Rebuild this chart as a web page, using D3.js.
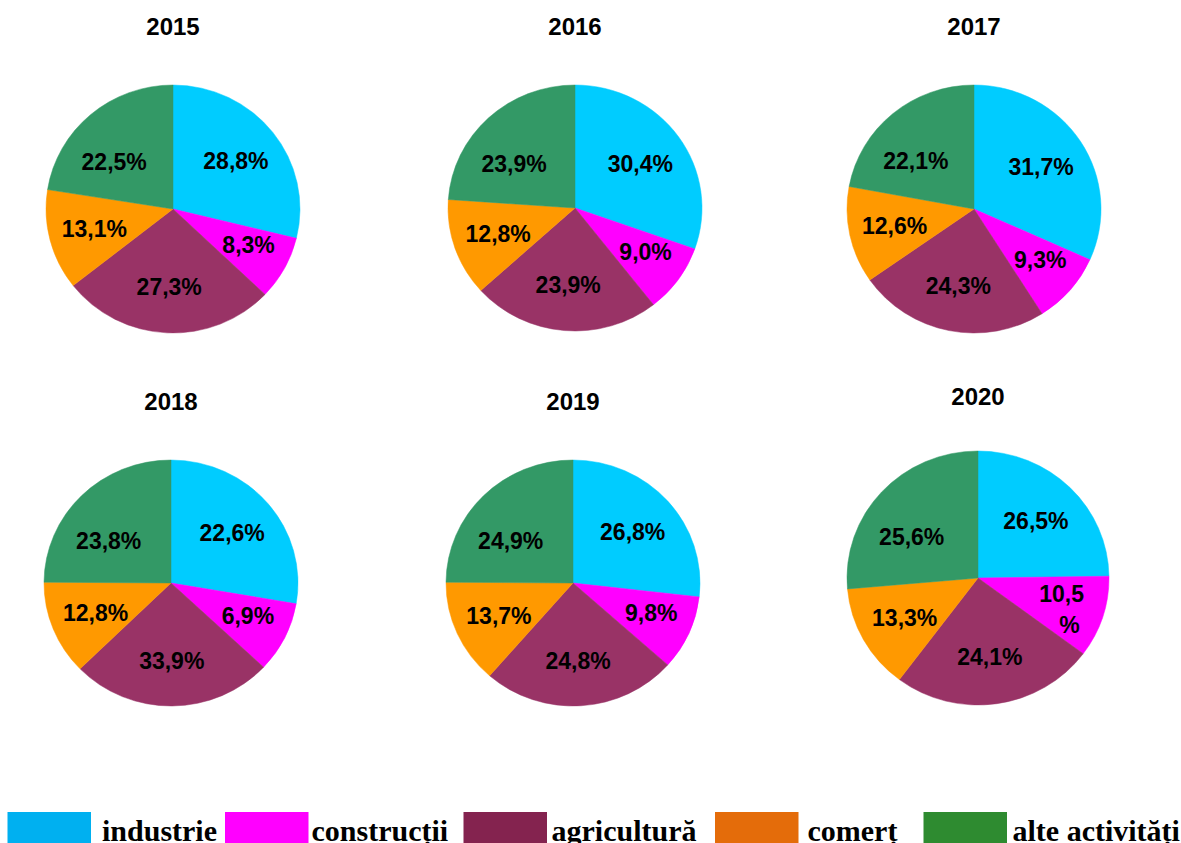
<!DOCTYPE html>
<html><head><meta charset="utf-8">
<script src="https://cdn.jsdelivr.net/npm/d3@7/dist/d3.min.js"></script>
<style>body{margin:0;background:#fff;overflow:hidden}</style>
</head><body><svg id="chart" width="1181" height="843"></svg>
<script>
// ---- data ----
const years = ["2015", "2016", "2017", "2018", "2019", "2020"];
const sectors = ["industrie", "construcții", "agricultură", "comerț", "alte activități"];
// labelled shares (%), order: industrie, construcții, agricultură, comerț, alte activități
const labels2015 = [28.8, 8.3, 27.3, 13.1, 22.5];
const labels2016 = [30.4, 9.0, 23.9, 12.8, 23.9];
const labels2017 = [31.7, 9.3, 24.3, 12.6, 22.1];
const labels2018 = [22.6, 6.9, 33.9, 12.8, 23.8];
const labels2019 = [26.8, 9.8, 24.8, 13.7, 24.9];
const labels2020 = [26.5, 10.5, 24.1, 13.3, 25.6];
// slice sizes as drawn in the picture (differ from labels for 2018 and 2020)
const slices2018 = [27.7, 9.3, 25.7, 12.4, 24.9];
const slices2020 = [24.8, 10.4, 25.1, 13.4, 26.4];
const labelSets = [labels2015, labels2016, labels2017, labels2018, labels2019, labels2020];
const sliceSets = [labels2015, labels2016, labels2017, slices2018, labels2019, slices2020];
const wrapLabels = ["2020|construcții"];
const pieColors = ["#00ccff", "#ff00ff", "#993366", "#ff9900", "#339966"];
const legendColors = ["#00b0f0", "#ff00ff", "#84234f", "#e46c0a", "#2e8b30"];

// ---- layout ----
const layout = [
  {cx: 173, cy: 209, rx: 127, ry: 124, ty: 35},
  {cx: 575, cy: 208, rx: 127, ry: 123, ty: 35},
  {cx: 974, cy: 209, rx: 127, ry: 124, ty: 35},
  {cx: 171, cy: 583, rx: 127, ry: 123, ty: 410},
  {cx: 573, cy: 583, rx: 127, ry: 123, ty: 410},
  {cx: 978, cy: 578, rx: 131, ry: 127, ty: 405}
];
// label placement style per sector: radial factor and angular nudge (degrees)
const labelK = [0.63, 0.66, 0.63, 0.64, 0.6];
const labelShift = [0, -3, 0, 0, -10];
const legendBoxX = [7.5, 225, 463.5, 715, 923.5];
const legendTextGap = [11, 3, 4.5, 9, 5.5];

const svg = d3.select("#chart");
const fmt = v => d3.format(".1f")(v).replace(".", ",");
const pie = d3.pie().sort(null).value(d => d.v);
const sans = "'Liberation Sans', Arial, Helvetica, sans-serif";

years.forEach((yr, i) => {
  const L = layout[i];
  const data = sectors.map((s, j) => ({s, j, v: sliceSets[i][j], lab: labelSets[i][j], c: pieColors[j]}));
  const arcs = pie(data);
  const arc = d3.arc().innerRadius(0).outerRadius(L.rx);
  const g = svg.append("g");
  g.append("text")
    .attr("x", L.cx).attr("y", L.ty)
    .attr("text-anchor", "middle")
    .style("font-family", sans).style("font-weight", "bold").style("font-size", "24px")
    .text(yr);
  g.append("g")
    .attr("transform", `translate(${L.cx},${L.cy}) scale(1,${L.ry / L.rx})`)
    .selectAll("path").data(arcs).join("path")
    .attr("d", arc)
    .attr("fill", d => d.data.c)
    .attr("stroke", d => d.data.c).attr("stroke-width", 0.5);
  arcs.forEach(a => {
    const j = a.data.j;
    const m = (a.startAngle + a.endAngle) / 2 + labelShift[j] * Math.PI / 180;
    const k = labelK[j];
    const x = L.cx + Math.sin(m) * k * L.rx;
    const y = L.cy - Math.cos(m) * k * L.ry;
    const t = g.append("text")
      .attr("text-anchor", "middle")
      .style("font-family", sans).style("font-weight", "bold").style("font-size", "23px")
      .attr("fill", "#000");
    const txt = fmt(a.data.lab) + "%";
    if (wrapLabels.includes(yr + "|" + a.data.s)) {
      t.append("tspan").attr("x", x).attr("y", y).attr("dy", "0.1em").text(fmt(a.data.lab));
      t.append("tspan").attr("x", x + 8).attr("y", y).attr("dy", "1.45em").text("%");
    } else {
      t.attr("x", x).attr("y", y).attr("dy", "0.36em").text(txt);
    }
  });
});

// ---- legend ----
const serif = "'Liberation Serif', 'Times New Roman', serif";
sectors.forEach((s, j) => {
  svg.append("rect").attr("x", legendBoxX[j]).attr("y", 812).attr("width", 83.5).attr("height", 40)
    .attr("fill", legendColors[j]);
  svg.append("text").attr("x", legendBoxX[j] + 83.5 + legendTextGap[j]).attr("y", 841)
    .style("font-family", serif).style("font-weight", "bold").style("font-size", "30px")
    .text(s);
});
</script></body></html>
